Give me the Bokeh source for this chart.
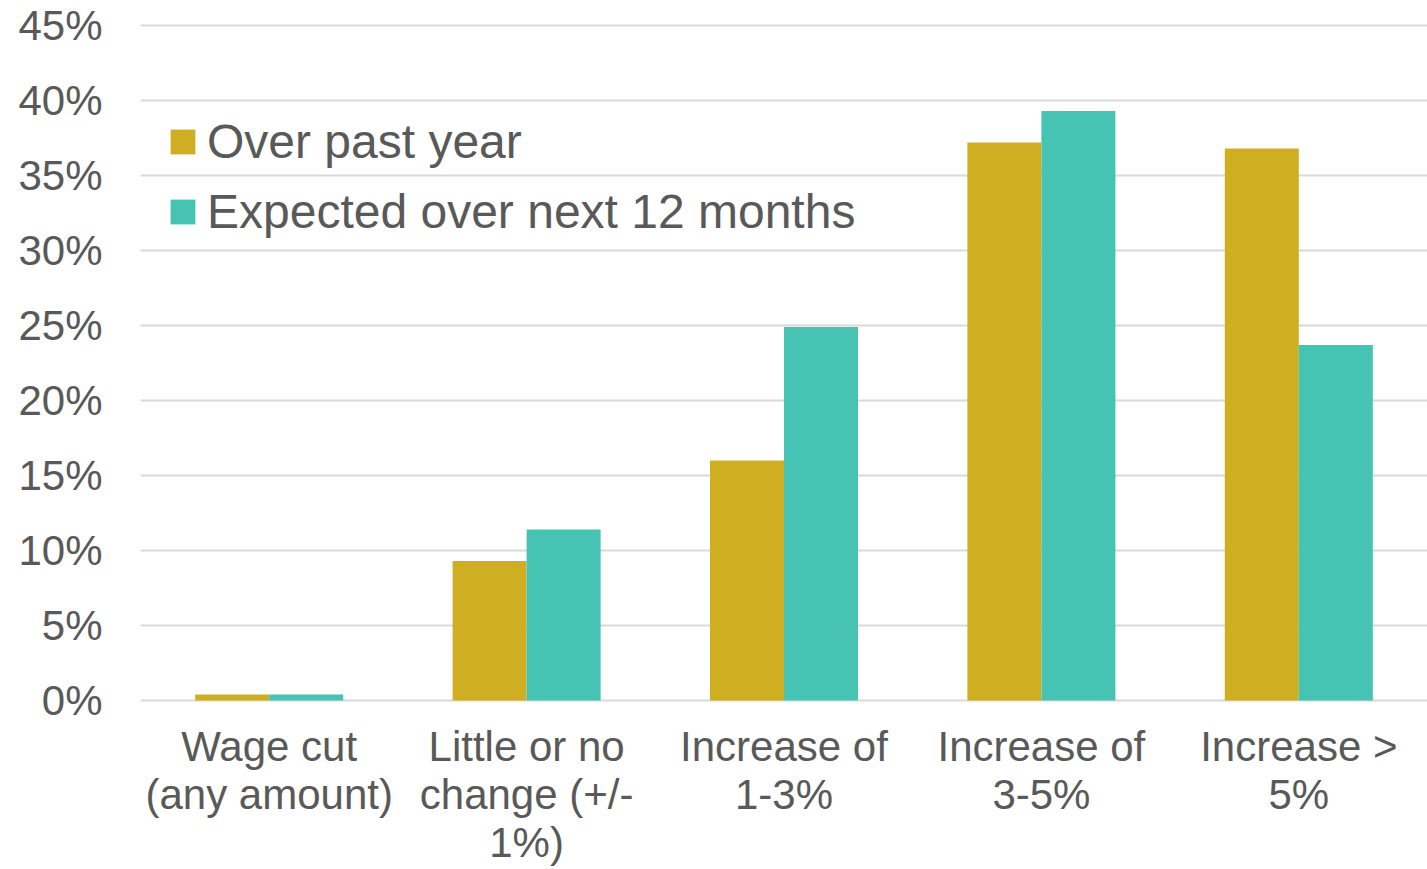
from bokeh.plotting import figure
from bokeh.models import (ColumnDataSource, FactorRange, Range1d, FixedTicker,
                          PrintfTickFormatter, Legend, LegendItem)
from bokeh.transform import dodge
from bokeh.embed import file_html
from bokeh.resources import INLINE

# Wage change categories (line breaks as shown under the axis)
categories = [
    "Wage cut\n(any amount)",
    "Little or no\nchange (+/-\n1%)",
    "Increase of\n1-3%",
    "Increase of\n3-5%",
    "Increase >\n5%",
]
# Share of respondents, in percent
past_year = [0.4, 9.3, 16.0, 37.2, 36.8]
next_12_months = [0.4, 11.4, 24.9, 39.3, 23.7]
y_ticks = [0, 5, 10, 15, 20, 25, 30, 35, 40, 45]

GOLD = "#CFAE22"
TEAL = "#46C3B3"
TEXT = "#595959"
GRID = "#D9D9D9"
FONT = "Liberation Sans"

source = ColumnDataSource(dict(cat=categories, past=past_year, nxt=next_12_months))

p = figure(
    width=1427, height=869,
    x_range=FactorRange(*categories, range_padding=0),
    y_range=Range1d(-0.2, 45.2),
    output_backend="svg", toolbar_location=None,
    min_border_left=140, min_border_right=0,
    min_border_top=22, min_border_bottom=166,
)
p.outline_line_color = None
p.background_fill_color = "white"
p.border_fill_color = "white"

bw = 0.2875
r1 = p.vbar(x=dodge("cat", -bw / 2, range=p.x_range), top="past", bottom=0, width=bw,
            source=source, fill_color=GOLD, line_color=None)
r2 = p.vbar(x=dodge("cat", bw / 2, range=p.x_range), top="nxt", bottom=0, width=bw,
            source=source, fill_color=TEAL, line_color=None)

# Grid
p.xgrid.grid_line_color = None
p.ygrid.grid_line_color = GRID
p.ygrid.grid_line_width = 2
p.ygrid.ticker = FixedTicker(ticks=y_ticks)
p.ygrid.level = "underlay"

# Y axis
p.yaxis.ticker = FixedTicker(ticks=y_ticks)
p.yaxis.formatter = PrintfTickFormatter(format="%d%%")
p.yaxis.axis_line_color = None
p.yaxis.major_tick_line_color = None
p.yaxis.minor_tick_line_color = None
p.yaxis.major_tick_out = 0
p.yaxis.major_label_standoff = 38
p.yaxis.major_label_text_font = FONT
p.yaxis.major_label_text_font_size = "42px"
p.yaxis.major_label_text_color = TEXT

# X axis
p.xaxis.axis_line_color = None
p.xaxis.major_tick_line_color = None
p.xaxis.minor_tick_line_color = None
p.xaxis.major_tick_out = 0
p.xaxis.major_label_standoff = 19
p.xaxis.major_label_text_font = FONT
p.xaxis.major_label_text_font_size = "42px"
p.xaxis.major_label_text_color = TEXT
p.xaxis.major_label_text_line_height = 1.03

legend = Legend(
    items=[LegendItem(label="Over past year", renderers=[r1]),
           LegendItem(label="Expected over next 12 months", renderers=[r2])],
    location=(27, 464),
    glyph_width=31, glyph_height=31,
    label_standoff=9, spacing=15, padding=0, margin=0,
    label_text_font=FONT, label_text_font_size="48px", label_text_color=TEXT,
    border_line_color=None, background_fill_alpha=0,
)
p.add_layout(legend)

open("out.html", "w").write(file_html(p, INLINE))
